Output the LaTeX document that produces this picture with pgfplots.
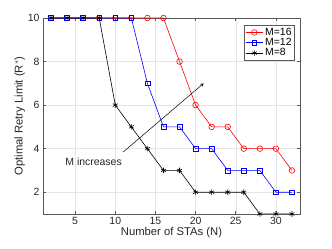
\documentclass[border=0pt]{standalone}
\usepackage{fontspec}
\setmainfont{Liberation Sans}
\usepackage{pgfplots}
\pgfplotsset{compat=1.18}
\begin{document}
\begin{tikzpicture}[x=1bp,y=1bp]
\begin{axis}[
  scale only axis,
  width=257bp, height=196bp,
  xmin=1, xmax=33, ymin=1, ymax=10,
  xtick={5,10,15,20,25,30},
  ytick={2,4,6,8,10},
  grid=major,
  grid style={gray!20, line width=0.4pt},
  axis line style={gray!70!black, line width=0.5pt},
  tick style={gray!70!black, line width=0.5pt},
  tick align=inside,
  major tick length=3bp,
  every tick label/.append style={font=\fontsize{10.5}{12}\selectfont, text=black!85},
  /pgf/number format/assume math mode=true,
  xlabel={Number of STAs (N)},
  ylabel={Optimal Retry Limit (R$^*$)},
  label style={font=\fontsize{11.3}{13}\selectfont, text=black!85},
  xlabel style={yshift=4bp},
  ylabel style={yshift=-4bp},
  legend style={at={(0.98,0.965)}, anchor=north east, font=\fontsize{10.5}{12}\selectfont,
    draw=gray!70!black, line width=0.5pt, inner xsep=1bp, inner ysep=1bp, row sep=-2.5bp},
  legend cell align=left,
]
\addplot[red, line width=0.6pt, mark=o, mark size=2.8bp, mark options={solid}] coordinates {
(2,10)(4,10)(6,10)(8,10)(10,10)(12,10)(14,10)(16,10)(18,8)(20,6)(22,5)(24,5)(26,4)(28,4)(30,4)(32,3)};
\addlegendentry{M=16}
\addplot[blue, line width=0.6pt, mark=square, mark size=2.4bp] coordinates {
(2,10)(4,10)(6,10)(8,10)(10,10)(12,10)(14,7)(16,5)(18,5)(20,4)(22,4)(24,3)(26,3)(28,3)(30,2)(32,2)};
\addlegendentry{M=12}
\addplot[black, line width=0.6pt, mark=asterisk, mark size=2.8bp] coordinates {
(2,10)(4,10)(6,10)(8,10)(10,6)(12,5)(14,4)(16,3)(18,3)(20,2)(22,2)(24,2)(26,2)(28,1)(30,1)(32,1)};
\addlegendentry{M=8}
\draw[-stealth, line width=0.5pt] (axis cs:11,3.85) -- (axis cs:21,7);
\node[font=\fontsize{10.5}{12}\selectfont, text=black!85] at (axis cs:7.3,3.42) {M increases};
\end{axis}
\path ([shift={(-43bp,-35bp)}]current axis.south west) rectangle ([shift={(32bp,18bp)}]current axis.north east);
\end{tikzpicture}
\end{document}
